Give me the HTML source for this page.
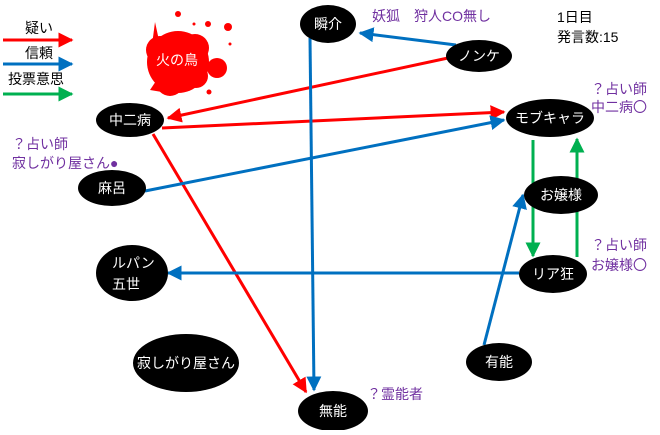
<!DOCTYPE html>
<html><head><meta charset="utf-8"><style>
body{margin:0;background:#fff;}
svg text{font-family:"Liberation Sans","Noto Sans CJK JP",sans-serif;}
</style></head><body>
<svg width="660" height="430" viewBox="0 0 660 430" xmlns="http://www.w3.org/2000/svg">
<defs>
<marker id="r" markerWidth="5" markerHeight="5" refX="4.5" refY="2.5" orient="auto" markerUnits="strokeWidth"><path d="M0,0 L5,2.5 L0,5 z" fill="#ff0000"/></marker>
<marker id="b" markerWidth="5" markerHeight="5" refX="4.5" refY="2.5" orient="auto" markerUnits="strokeWidth"><path d="M0,0 L5,2.5 L0,5 z" fill="#0070c0"/></marker>
<marker id="g" markerWidth="5" markerHeight="5" refX="4.5" refY="2.5" orient="auto" markerUnits="strokeWidth"><path d="M0,0 L5,2.5 L0,5 z" fill="#00b050"/></marker>
</defs>
<!-- legend -->
<text x="25" y="33" font-size="14">疑い</text>
<line x1="3" y1="40" x2="72" y2="40" stroke="#ff0000" stroke-width="3" marker-end="url(#r)"/>
<text x="25" y="58" font-size="14">信頼</text>
<line x1="3" y1="64" x2="72" y2="64" stroke="#0070c0" stroke-width="3" marker-end="url(#b)"/>
<text x="8" y="84" font-size="14">投票意思</text>
<line x1="3" y1="94" x2="72" y2="94" stroke="#00b050" stroke-width="3" marker-end="url(#g)"/>
<!-- fire bird splat -->
<g fill="#ff0000">
<circle cx="178" cy="62" r="31"/>
<circle cx="160" cy="50" r="14"/><circle cx="195" cy="48" r="14"/><circle cx="170" cy="82" r="14"/><circle cx="196" cy="76" r="12"/>
<circle cx="217" cy="68" r="10"/><circle cx="228" cy="27" r="4"/><circle cx="208" cy="24" r="3"/><circle cx="178" cy="14" r="3"/>
<circle cx="194" cy="24" r="1.5"/><circle cx="230" cy="44" r="1.5"/><circle cx="209" cy="92" r="2.5"/>
<path d="M155 22 L160 45 L152 45z"/><path d="M150 90 L158 78 L162 92z"/>
</g>
<text x="177" y="65" font-size="14" fill="#fff" text-anchor="middle">火の鳥</text>
<!-- connectors -->
<line x1="448" y1="58" x2="168" y2="118" stroke="#ff0000" stroke-width="3" marker-end="url(#r)"/>
<line x1="162" y1="128" x2="504" y2="112" stroke="#ff0000" stroke-width="3" marker-end="url(#r)"/>
<line x1="153" y1="134" x2="306" y2="392" stroke="#ff0000" stroke-width="3" marker-end="url(#r)"/>
<line x1="456" y1="45" x2="360" y2="33" stroke="#0070c0" stroke-width="3" marker-end="url(#b)"/>
<line x1="310" y1="38" x2="314" y2="390" stroke="#0070c0" stroke-width="3" marker-end="url(#b)"/>
<line x1="145" y1="191" x2="504" y2="120" stroke="#0070c0" stroke-width="3" marker-end="url(#b)"/>
<line x1="519" y1="273" x2="168" y2="273" stroke="#0070c0" stroke-width="3" marker-end="url(#b)"/>
<line x1="484" y1="345" x2="523" y2="195" stroke="#0070c0" stroke-width="3" marker-end="url(#b)"/>
<line x1="533" y1="140" x2="533" y2="256" stroke="#00b050" stroke-width="3" marker-end="url(#g)"/>
<line x1="577" y1="257" x2="577" y2="139" stroke="#00b050" stroke-width="3" marker-end="url(#g)"/>
<!-- nodes -->
<g fill="#000">
<ellipse cx="328" cy="24" rx="28" ry="19"/>
<ellipse cx="479" cy="56" rx="33" ry="16"/>
<ellipse cx="550" cy="118" rx="44" ry="19"/>
<ellipse cx="561" cy="195" rx="37" ry="19"/>
<ellipse cx="553" cy="274" rx="34" ry="19"/>
<ellipse cx="130" cy="120" rx="34" ry="17"/>
<ellipse cx="112" cy="188" rx="34" ry="18"/>
<ellipse cx="132" cy="273" rx="36" ry="28"/>
<ellipse cx="186" cy="363" rx="53" ry="29"/>
<ellipse cx="499" cy="362" rx="33" ry="19"/>
<ellipse cx="333" cy="411" rx="35" ry="20"/>
</g>
<g fill="#fff" font-size="14" text-anchor="middle">
<text x="328" y="29">瞬介</text>
<text x="479" y="61">ノンケ</text>
<text x="550" y="123">モブキャラ</text>
<text x="561" y="200">お嬢様</text>
<text x="553" y="279">リア狂</text>
<text x="130" y="125">中二病</text>
<text x="112" y="193">麻呂</text>
<text x="112" y="268" text-anchor="start">ルパン</text>
<text x="112" y="289" text-anchor="start">五世</text>
<text x="186" y="368">寂しがり屋さん</text>
<text x="499" y="367">有能</text>
<text x="333" y="416">無能</text>
</g>
<!-- labels -->
<g fill="#7030a0" font-size="14">
<text x="372" y="21">妖狐　狩人CO無し</text>
<text x="647" y="94" text-anchor="end">？占い師</text>
<text x="647" y="112" text-anchor="end">中二病〇</text>
<text x="12" y="149">？占い師</text>
<text x="12" y="168">寂しがり屋さん●</text>
<text x="647" y="250" text-anchor="end">？占い師</text>
<text x="647" y="270" text-anchor="end">お嬢様〇</text>
<text x="367" y="399">？霊能者</text>
</g>
<text x="557" y="22" font-size="14">1日目</text>
<text x="557" y="42" font-size="14">発言数:15</text>
</svg>
</body></html>
